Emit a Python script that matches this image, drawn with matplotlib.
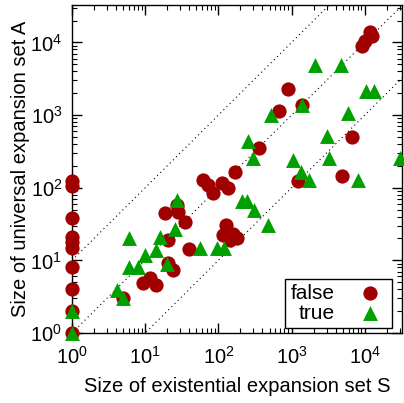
import numpy as np
import matplotlib
matplotlib.use('Agg')
import matplotlib.pyplot as plt

plt.rcParams['font.family'] = ['Liberation Sans', 'DejaVu Sans']
plt.rcParams['mathtext.default'] = 'regular'

# data
false_x = [1, 1, 1, 1, 1, 1, 1, 1, 1, 1,
           5.0, 9.4, 11.6, 14, 20.6, 24, 18.6, 27, 28, 35, 20.6, 40,
           62, 73, 85, 111, 136, 168, 360, 675, 880, 1380,
           9200, 10000, 11700, 12500, 6650, 4930, 1220,
           129, 116, 159, 177, 144]
false_y = [124, 105, 38.5, 21, 18, 15, 8, 4, 2, 1,
           3.0, 4.85, 5.7, 4.6, 9.1, 7.4, 44.8, 58, 47, 34, 19.2, 14.4,
           126, 110, 84.5, 116, 99, 164, 356, 1150, 2320, 1370,
           8900, 10400, 14000, 12100, 500, 144, 123,
           31, 22.5, 23, 20.2, 19.2]

true_x = [1, 1, 4.07, 5.0, 6.06, 6.06, 8.04, 9.9, 14, 15.9, 25.5, 26.9, 19.6,
          56, 94.5, 120, 207, 249, 308, 479, 255, 293, 516, 1050, 1360, 1730,
          1380, 2060, 4750, 10300, 13300, 5920, 3010, 3245, 30000, 8100]
true_y = [2, 1, 3.9, 3.0, 20.2, 8.06, 8.06, 11.9, 14, 21.3, 26.9, 68, 8.9,
          14.7, 14.7, 14.7, 64.7, 64.7, 49.7, 30.9, 445, 257, 1000, 243, 163, 129,
          1396, 4860, 4860, 2130, 2130, 1066, 521, 257, 257, 129]

labels = ['false', 'true']
lim = 32768

fig = plt.figure(figsize=(4.04, 4.03), dpi=100)
ax = fig.add_axes([72/404, 70/403, 330.5/404, 328/403])

# diagonals y = 10x, y = x, y = x/10
d = np.array([1, lim])
for f in [10, 1, 0.1]:
    ax.plot(d, d*f, color='black', lw=0.8, ls=(0, (1, 3)))

ax.scatter(false_x, false_y, s=105, marker='o', color='#a00000',
           label=labels[0], clip_on=False, zorder=3, linewidths=0)
ax.scatter(true_x, true_y, s=115, marker='^', color='#00a000',
           label=labels[1], clip_on=False, zorder=4, linewidths=0)

ax.set_xscale('log')
ax.set_yscale('log')
ax.set_xlim(1, lim)
ax.set_ylim(1, lim)

ax.tick_params(which='both', direction='in', top=True, right=True,
               labelsize=14.5)
ax.tick_params(axis='x', pad=9)
ax.tick_params(axis='y', pad=7)
ax.tick_params(which='major', length=7, width=1)
ax.tick_params(which='minor', length=3.5, width=0.8)
for s in ax.spines.values():
    s.set_linewidth(1)

ax.set_xlabel('Size of existential expansion set S', fontsize=14.5, labelpad=7)
ax.set_ylabel('Size of universal expansion set A', fontsize=14.5, labelpad=0)

leg = ax.legend(loc='lower right', bbox_to_anchor=(0.968, 0.015),
                borderaxespad=0, markerfirst=False, fancybox=False,
                edgecolor='black', framealpha=1, fontsize=15,
                handletextpad=0.9, borderpad=0.25, labelspacing=0.05,
                handlelength=1.6)
leg.get_frame().set_linewidth(1)

plt.savefig('out.png', dpi=100)
